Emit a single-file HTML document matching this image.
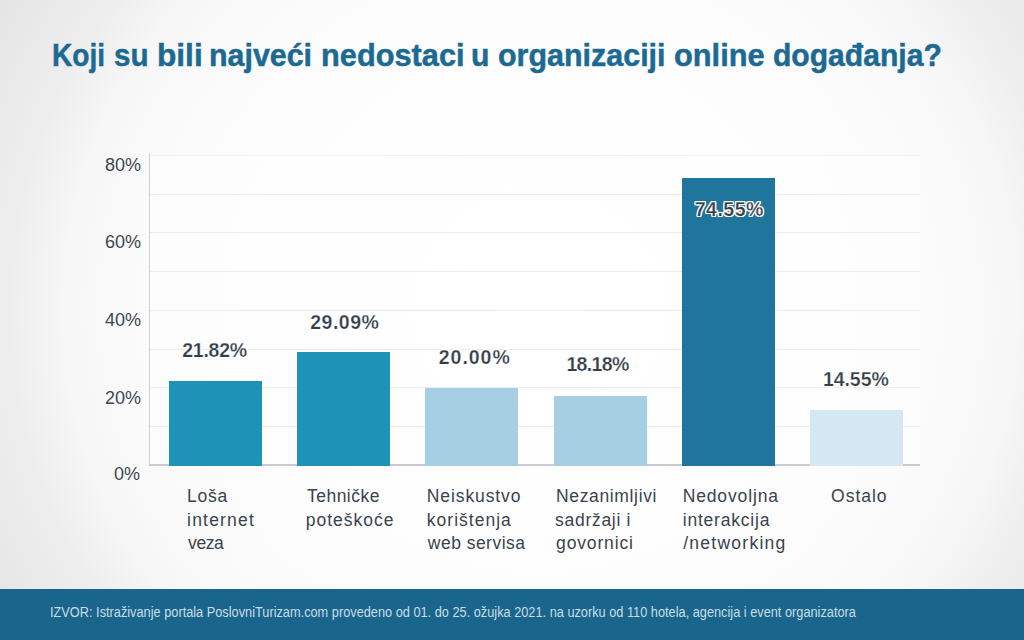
<!DOCTYPE html>
<html lang="hr">
<head>
<meta charset="utf-8">
<title>Koji su bili najveći nedostaci u organizaciji online događanja?</title>
<style>
  html, body { margin: 0; padding: 0; }
  body {
    width: 1024px; height: 640px; overflow: hidden; position: relative;
    font-family: "Liberation Sans", sans-serif;
    background: #e6e6e6;
  }
  .bg {
    position: absolute; left: 0; top: 0; width: 1024px; height: 589px;
    background: radial-gradient(ellipse 620px 600px at 540px 310px, #ffffff 0%, #fefefe 40%, #fcfcfd 55%, #fafafb 68%, #f6f6f7 77%, #eeeeee 85.5%, #e9e9e9 94%, #e5e5e5 100%);
  }
  h1 {
    position: absolute; left: 52px; top: 35px; margin: 0;
    font-size: 32px; line-height: 40px; font-weight: bold; color: #1c6a92; -webkit-text-stroke: 0.5px #1c6a92;
    white-space: nowrap; width: 900px; height: 40px;
  }
  h1 .w { position: absolute; top: 0; display: block; transform-origin: 0 0; }
/*WORDS*/#w0{left:-0.20px;transform:scaleX(0.8781)}#w1{left:62.20px;transform:scaleX(0.9257)}#w2{left:104.60px;transform:scaleX(0.9888)}#w3{left:157.20px;transform:scaleX(0.9496)}#w4{left:268.60px;transform:scaleX(0.9608)}#w5{left:418.80px;transform:scaleX(0.9427)}#w6{left:446.00px;transform:scaleX(0.9515)}#w7{left:622.20px;transform:scaleX(0.9617)}#w8{left:721.40px;transform:scaleX(0.9400)}/*END*/
  .plot {
    position: absolute; left: 150px; top: 155px; width: 770px; height: 310px;
    background: rgba(255,255,255,0.45);
  }
  .grid { position: absolute; left: 0; width: 770px; height: 1px; background: #ececef; }
  .yaxis { position: absolute; left: 149px; top: 153px; width: 1.3px; height: 312px; background: #d0d0d4; }
  .xaxis { position: absolute; left: 149px; top: 464px; width: 771px; height: 1.6px; background: #cbcbcf; }
  .ylab {
    position: absolute; left: 90px; width: 51px; text-align: right;
    font-size: 18px; line-height: 20px; color: #3d4751;
  }
  .bar { position: absolute; }
  .val {
    position: absolute; display: block; white-space: nowrap;
    font-size: 19.5px; line-height: 22px; font-weight: bold; color: #333e48;
    -webkit-text-stroke: 0.25px #ffffff;
    text-shadow: 1px 0 0 #fff, -1px 0 0 #fff, 0 1px 0 #fff, 0 -1px 0 #fff,
                 1px 1px 0 #fff, -1px -1px 0 #fff, 1px -1px 0 #fff, -1px 1px 0 #fff;
  }
  .xl {
    position: absolute; display: block; font-size: 17.5px; line-height: 24px;
    color: #39434d; white-space: nowrap;
  }
/*XL*/#x0_0{left:187.10px;letter-spacing:0.700px}#x0_1{left:187.10px;letter-spacing:1.186px}#x0_2{left:188.10px;letter-spacing:-0.433px}#x1_0{left:307.00px;letter-spacing:0.471px}#x1_1{left:305.80px;letter-spacing:1.000px}#x2_0{left:426.80px;letter-spacing:0.900px}#x2_1{left:426.80px;letter-spacing:1.011px}#x2_2{left:427.80px;letter-spacing:0.480px}#x3_0{left:556.00px;letter-spacing:0.645px}#x3_1{left:555.10px;letter-spacing:0.700px}#x3_2{left:556.10px;letter-spacing:0.850px}#x4_0{left:682.70px;letter-spacing:0.856px}#x4_1{left:682.70px;letter-spacing:0.800px}#x4_2{left:683.20px;letter-spacing:1.260px}#x5_0{left:831.10px;letter-spacing:0.980px}/*ENDXL*/
/*VL*/#v0{left:182.30px;letter-spacing:-0.280px;top:338.50px}#v1{left:310.30px;letter-spacing:0.480px;top:311.00px}#v2{left:438.80px;letter-spacing:0.960px;top:345.50px}#v3{left:566.40px;letter-spacing:-0.640px;top:353.40px}#v4{left:694.80px;letter-spacing:0.480px;top:197.60px}#v5{left:823.00px;letter-spacing:-0.080px;top:368.30px}/*ENDVL*/
  .footer {
    position: absolute; left: 0; top: 589px; width: 1024px; height: 51px;
    background: #19658c;
  }
  .footer span {
    position: absolute; left: 50px; top: 14.6px; font-size: 13.8px; line-height: 18px;
    color: #c9dde7; white-space: nowrap; transform-origin: 0 0; transform: scaleX(0.925);
  }
</style>
</head>
<body>
<div class="bg"></div>
<h1 id="title"><span class="w" id="w0">Koji</span><span class="w" id="w1">su</span><span class="w" id="w2">bili</span><span class="w" id="w3">najveći</span><span class="w" id="w4">nedostaci</span><span class="w" id="w5">u</span><span class="w" id="w6">organizaciji</span><span class="w" id="w7">online</span><span class="w" id="w8">događanja?</span></h1>

<div class="plot">
  <div class="grid" style="top:0px; background:#f2f2f4"></div>
  <div class="grid" style="top:39px"></div>
  <div class="grid" style="top:77px"></div>
  <div class="grid" style="top:116px"></div>
  <div class="grid" style="top:155px"></div>
  <div class="grid" style="top:194px"></div>
  <div class="grid" style="top:232px"></div>
  <div class="grid" style="top:271px"></div>
</div>
<div class="yaxis"></div>

<div class="ylab" style="top:155px">80%</div>
<div class="ylab" style="top:232px">60%</div>
<div class="ylab" style="top:310px">40%</div>
<div class="ylab" style="top:387.5px">20%</div>
<div class="ylab" style="top:463.5px; left:89px">0%</div>

<div class="xaxis"></div>
<div class="bar" style="left:169px; width:93.0px; top:380.5px; height:85.2px; background:#1f93b7"></div>
<div class="bar" style="left:297.3px; width:93.0px; top:352.1px; height:113.6px; background:#1f93b7"></div>
<div class="bar" style="left:425px; width:93.1px; top:388px; height:77.7px; background:#a6cfe3"></div>
<div class="bar" style="left:554px; width:93.0px; top:396px; height:69.7px; background:#a6cfe3"></div>
<div class="bar" style="left:682px; width:93.0px; top:178px; height:287.7px; background:#20759c"></div>
<div class="bar" style="left:810px; width:93.0px; top:409.7px; height:56.0px; background:#d3e8f3"></div>


<span class="val" id="v0">21.82%</span>
<span class="val" id="v1">29.09%</span>
<span class="val" id="v2">20.00%</span>
<span class="val" id="v3">18.18%</span>
<span class="val" id="v4">74.55%</span>
<span class="val" id="v5">14.55%</span>

<span class="xl" id="x0_0" style="top:483.6px">Loša</span>
<span class="xl" id="x0_1" style="top:507.5px">internet</span>
<span class="xl" id="x0_2" style="top:531.4px">veza</span>

<span class="xl" id="x1_0" style="top:483.6px">Tehničke</span>
<span class="xl" id="x1_1" style="top:507.5px">poteškoće</span>

<span class="xl" id="x2_0" style="top:483.6px">Neiskustvo</span>
<span class="xl" id="x2_1" style="top:507.5px">korištenja</span>
<span class="xl" id="x2_2" style="top:531.4px">web servisa</span>

<span class="xl" id="x3_0" style="top:483.6px">Nezanimljivi</span>
<span class="xl" id="x3_1" style="top:507.5px">sadržaji i</span>
<span class="xl" id="x3_2" style="top:531.4px">govornici</span>

<span class="xl" id="x4_0" style="top:483.6px">Nedovoljna</span>
<span class="xl" id="x4_1" style="top:507.5px">interakcija</span>
<span class="xl" id="x4_2" style="top:531.4px">/networking</span>

<span class="xl" id="x5_0" style="top:483.6px">Ostalo</span>

<div class="footer"><span id="foot">IZVOR: Istraživanje portala PoslovniTurizam.com provedeno od 01. do 25. ožujka 2021. na uzorku od 110 hotela, agencija i event organizatora</span></div>
</body>
</html>
